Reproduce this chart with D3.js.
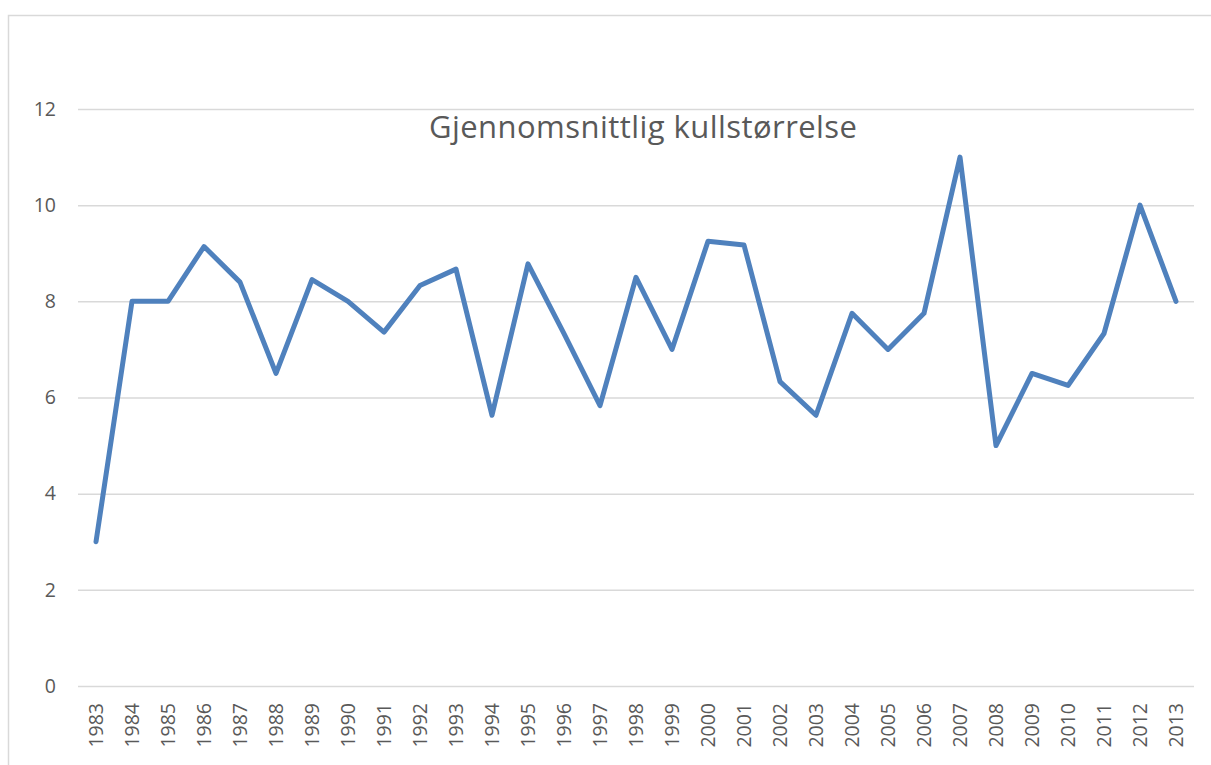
<!DOCTYPE html>
<html>
<head>
<meta charset="utf-8">
<script src="https://cdn.jsdelivr.net/npm/d3@7"></script>
<style>
  html, body { margin: 0; padding: 0; background: #fff; }
  svg { display: block; }
</style>
</head>
<body>
<svg id="chart" width="1211" height="765"></svg>
<script>
const years = ["1983","1984","1985","1986","1987","1988","1989","1990","1991","1992","1993","1994","1995","1996","1997","1998","1999","2000","2001","2002","2003","2004","2005","2006","2007","2008","2009","2010","2011","2012","2013"];
const values = [3, 8, 8, 9.14, 8.4, 6.5, 8.45, 8, 7.36, 8.33, 8.67, 5.63, 8.78, 7.33, 5.83, 8.5, 7, 9.25, 9.17, 6.33, 5.63, 7.75, 7, 7.75, 11, 5, 6.5, 6.25, 7.33, 10, 8];
const yTicks = [0, 2, 4, 6, 8, 10, 12];
const title = "Gjennomsnittlig kullstørrelse";

const svg = d3.select("#chart");
const font = "'Open Sans', 'Liberation Sans', sans-serif";
const textColor = "#595959";

// outer chart border (extends beyond the image on right and bottom)
svg.append("rect")
  .attr("x", 8.5).attr("y", 15.5)
  .attr("width", 1400).attr("height", 1000)
  .attr("fill", "none").attr("stroke", "#d9d9d9").attr("stroke-width", 1.5);

const x = d3.scalePoint().domain(years).range([78, 1194]).padding(0.5);
const y = d3.scaleLinear().domain([0, 12]).range([686, 109]);

// gridlines + y labels
const yAxis = d3.axisLeft(y).tickValues(yTicks).tickSize(-(1194 - 78)).tickPadding(22);
const gy = svg.append("g").attr("transform", "translate(78,0)").call(yAxis);
gy.select(".domain").remove();
gy.selectAll(".tick line").attr("stroke", "#d9d9d9").attr("stroke-width", 1.5);
gy.selectAll(".tick text")
  .attr("fill", textColor).style("font-family", font).style("font-size", "19.5px");

// x axis labels
const xAxis = d3.axisBottom(x).tickSize(0).tickPadding(0);
const gx = svg.append("g").attr("transform", "translate(0,686)").call(xAxis);
gx.select(".domain").remove();
gx.selectAll(".tick text")
  .attr("fill", textColor).style("font-family", font).style("font-size", "19.5px")
  .attr("text-anchor", "end")
  .attr("transform", "rotate(-90)")
  .attr("x", -17).attr("y", 0).attr("dy", "0.35em");

// line
const line = d3.line().x((d, i) => x(years[i])).y(d => y(d));
svg.append("path")
  .datum(values)
  .attr("d", line)
  .attr("fill", "none")
  .attr("stroke", "#4f81bd")
  .attr("stroke-width", 5)
  .attr("stroke-linejoin", "round")
  .attr("stroke-linecap", "round");

// title
svg.append("text")
  .attr("x", 643).attr("y", 138)
  .attr("text-anchor", "middle")
  .attr("fill", textColor)
  .attr("textLength", 428)
  .attr("lengthAdjust", "spacing")
  .style("font-family", font)
  .style("font-size", "31px")
  .text(title);
</script>
</body>
</html>
